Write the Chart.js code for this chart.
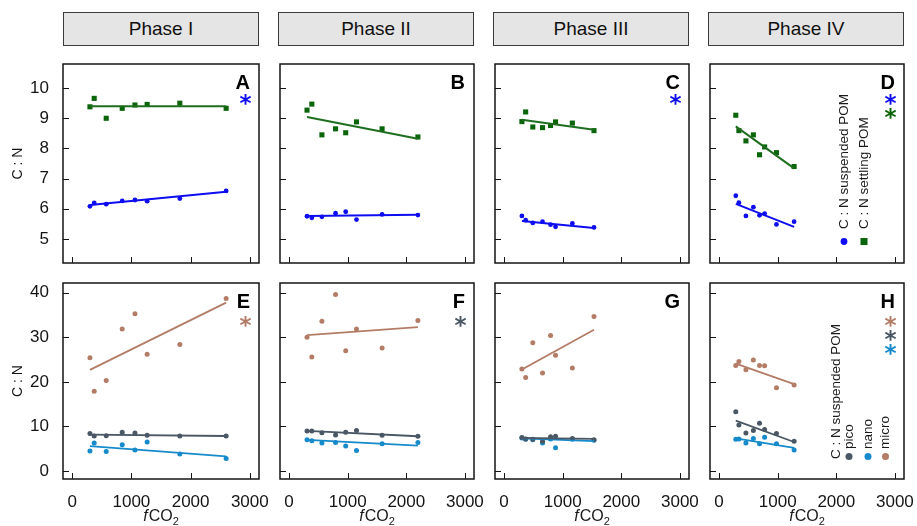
<!DOCTYPE html>
<html>
<head>
<meta charset="utf-8">
<script src="https://cdn.jsdelivr.net/npm/chart.js@4.4.1/dist/chart.umd.min.js"></script>
<style>
  html, body { margin: 0; padding: 0; background: #fff; }
  #wrap { position: relative; width: 917px; height: 526px; overflow: hidden;
          font-family: 'Liberation Sans', Arial, Helvetica, sans-serif; }
  .strip { position: absolute; top: 12px; height: 34px; width: 196px; box-sizing: border-box;
           background: #e5e5e5; border: 1px solid #3a3a3a; text-align: center;
           line-height: 32px; font-size: 19px; color: #111; }
  canvas { position: absolute; }
</style>
</head>
<body>
<div id="wrap"></div>
<script>
// ---- labels and ticks ----
const phaseNames = ['Phase I', 'Phase II', 'Phase III', 'Phase IV'];
const xTickVals = [0, 1000, 2000, 3000];
const yTicksBulk = [5, 6, 7, 8, 9, 10];
const yTicksSize = [0, 10, 20, 30, 40];
const yLabel = 'C : N';

// ---- fCO2 levels of the eight mesocosms, per phase ----
const fco2P1 = [300, 372, 575, 845, 1060, 1266, 1818, 2600];
const fco2P2 = [306, 388, 560, 793, 966, 1150, 1587, 2198];
const fco2P3 = [304, 368, 490, 656, 793, 878, 1165, 1534];
const fco2P4 = [285, 338, 458, 585, 690, 777, 979, 1280];

// ---- C:N of suspended and settling POM ----
const suspP1 = [6.08, 6.19, 6.15, 6.26, 6.29, 6.25, 6.34, 6.59];
const settP1 = [9.38, 9.66, 9.00, 9.33, 9.44, 9.46, 9.50, 9.33];
const suspP2 = [5.75, 5.70, 5.73, 5.85, 5.90, 5.64, 5.81, 5.79];
const settP2 = [9.27, 9.47, 8.45, 8.65, 8.52, 8.88, 8.65, 8.38];
const suspP3 = [5.76, 5.62, 5.53, 5.57, 5.47, 5.40, 5.51, 5.38];
const settP3 = [8.89, 9.21, 8.71, 8.69, 8.76, 8.88, 8.84, 8.59];
const suspP4 = [6.43, 6.20, 5.76, 6.05, 5.78, 5.84, 5.48, 5.57];
const settP4 = [9.10, 8.59, 8.25, 8.45, 7.79, 8.05, 7.86, 7.40];

// regression line end values (at lowest and highest fCO2)
const fitSuspP1 = [6.12, 6.56], fitSettP1 = [9.40, 9.40];
const fitSuspP2 = [5.76, 5.80], fitSettP2 = [9.04, 8.32];
const fitSuspP3 = [5.59, 5.36], fitSettP3 = [8.95, 8.62];
const fitSuspP4 = [6.16, 5.40], fitSettP4 = [8.73, 7.34];

// ---- C:N of size-fractionated suspended POM ----
const microP1 = [25.4, 17.9, 20.3, 31.9, 35.3, 26.2, 28.4, 38.7];
const picoP1  = [8.4, 7.85, 7.9, 8.7, 8.5, 8.0, 7.85, 7.85];
const nanoP1  = [4.5, 6.3, 4.4, 5.9, 4.7, 6.5, 3.8, 2.8];
const microP2 = [30.0, 25.6, 33.6, 39.6, 27.0, 31.9, 27.6, 33.8];
const picoP2  = [9.0, 9.0, 8.6, 8.1, 8.7, 9.1, 8.0, 7.8];
const nanoP2  = [7.0, 6.8, 6.3, 6.4, 5.6, 4.6, 6.1, 6.4];
const microP3 = [22.9, 21.0, 28.8, 22.0, 30.4, 26.0, 23.1, 34.7];
const picoP3  = [7.5, 7.2, 7.1, 6.7, 7.7, 7.8, 7.3, 7.0];
const nanoP3  = [7.4, 7.1, 7.0, 6.3, 7.2, 5.2, 7.1, 6.9];
const microP4 = [23.7, 24.6, 22.7, 24.9, 23.7, 23.6, 18.7, 19.3];
const picoP4  = [13.3, 10.3, 8.5, 9.1, 10.7, 9.3, 8.4, 6.7];
const nanoP4  = [7.1, 7.2, 6.3, 7.3, 6.1, 7.6, 6.1, 4.7];

const fitMicroP1 = [22.7, 37.8], fitPicoP1 = [8.15, 7.85], fitNanoP1 = [5.6, 3.3];
const fitMicroP2 = [30.5, 32.3], fitPicoP2 = [9.0, 7.8],   fitNanoP2 = [7.0, 5.7];
const fitMicroP3 = [22.8, 31.7], fitPicoP3 = [7.4, 7.2],   fitNanoP3 = [7.3, 6.7];
const fitMicroP4 = [24.1, 19.5], fitPicoP4 = [11.3, 6.5],  fitNanoP4 = [7.3, 5.2];

// ---- styling ----
const colSusp = '#0d0df0', colSett = '#0a640a', colSettLine = '#1f6e1f';
const colMicro = '#b37c66', colPico = '#4a5765', colNano = '#168acb';
const ink = '#141414';
const FONT = "'Liberation Sans', Arial, Helvetica, sans-serif";

const styles = {
  susp:  { shape: 'circle', r: 2.4, color: colSusp,  line: colSusp,     lw: 2 },
  sett:  { shape: 'rect',   r: 3.6, color: colSett,  line: colSettLine, lw: 2 },
  micro: { shape: 'circle', r: 2.5, color: colMicro, line: colMicro,    lw: 1.8 },
  pico:  { shape: 'circle', r: 2.5, color: colPico,  line: colPico,     lw: 1.8 },
  nano:  { shape: 'circle', r: 2.5, color: colNano,  line: colNano,     lw: 1.8 }
};

// panel frame layout (pixels)
const plotLefts = [63, 278, 493, 708];
const plotW = 196;
const plotTops = [62, 281];
const plotHs = [201, 198];
const yRanges = [[4.2, 10.8], [-1.8, 42.2]];
const xRange = [-155, 3155];

const panels = [
  { row: 0, col: 0, letter: 'A', x: fco2P1, stars: [colSusp],
    series: [{ kind: 'sett', y: settP1, fit: fitSettP1 }, { kind: 'susp', y: suspP1, fit: fitSuspP1 }] },
  { row: 0, col: 1, letter: 'B', x: fco2P2, stars: [],
    series: [{ kind: 'sett', y: settP2, fit: fitSettP2 }, { kind: 'susp', y: suspP2, fit: fitSuspP2 }] },
  { row: 0, col: 2, letter: 'C', x: fco2P3, stars: [colSusp],
    series: [{ kind: 'sett', y: settP3, fit: fitSettP3 }, { kind: 'susp', y: suspP3, fit: fitSuspP3 }] },
  { row: 0, col: 3, letter: 'D', x: fco2P4, stars: [colSusp, colSett], legend: 'bulk',
    series: [{ kind: 'sett', y: settP4, fit: fitSettP4 }, { kind: 'susp', y: suspP4, fit: fitSuspP4 }] },
  { row: 1, col: 0, letter: 'E', x: fco2P1, stars: [colMicro],
    series: [{ kind: 'micro', y: microP1, fit: fitMicroP1 }, { kind: 'pico', y: picoP1, fit: fitPicoP1 }, { kind: 'nano', y: nanoP1, fit: fitNanoP1 }] },
  { row: 1, col: 1, letter: 'F', x: fco2P2, stars: [colPico],
    series: [{ kind: 'micro', y: microP2, fit: fitMicroP2 }, { kind: 'pico', y: picoP2, fit: fitPicoP2 }, { kind: 'nano', y: nanoP2, fit: fitNanoP2 }] },
  { row: 1, col: 2, letter: 'G', x: fco2P3, stars: [],
    series: [{ kind: 'micro', y: microP3, fit: fitMicroP3 }, { kind: 'pico', y: picoP3, fit: fitPicoP3 }, { kind: 'nano', y: nanoP3, fit: fitNanoP3 }] },
  { row: 1, col: 3, letter: 'H', x: fco2P4, stars: [colMicro, colPico, colNano], legend: 'size',
    series: [{ kind: 'micro', y: microP4, fit: fitMicroP4 }, { kind: 'pico', y: picoP4, fit: fitPicoP4 }, { kind: 'nano', y: nanoP4, fit: fitNanoP4 }] }
];

const wrap = document.getElementById('wrap');

// phase header strips
phaseNames.forEach((name, i) => {
  const d = document.createElement('div');
  d.className = 'strip';
  d.style.left = plotLefts[i] + 'px';
  d.textContent = name;
  wrap.appendChild(d);
});

// text written bottom-to-top
function vtext(ctx, txt, x, yStart, size, color) {
  ctx.save();
  ctx.translate(x, yStart);
  ctx.rotate(-Math.PI / 2);
  ctx.font = size + 'px ' + FONT;
  ctx.fillStyle = color;
  ctx.textAlign = 'left';
  ctx.textBaseline = 'middle';
  ctx.fillText(txt, 0, 0);
  ctx.restore();
}

// glyph drawn with its ink box centred on (cx, cy)
function centredGlyph(ctx, ch, cx, cy, font, color) {
  ctx.save();
  ctx.font = font;
  ctx.fillStyle = color;
  ctx.textAlign = 'left';
  ctx.textBaseline = 'alphabetic';
  const m = ctx.measureText(ch);
  const w = m.actualBoundingBoxRight + m.actualBoundingBoxLeft;
  const h = m.actualBoundingBoxAscent + m.actualBoundingBoxDescent;
  const x = cx - w / 2 + m.actualBoundingBoxLeft;
  const y = cy + h / 2 - m.actualBoundingBoxDescent;
  ctx.fillText(ch, x, y);
  ctx.restore();
}

function makeDeco(p) {
  return {
    id: 'deco' + p.letter,
    afterDraw(chart) {
      const ctx = chart.ctx;
      const a = chart.chartArea;
      const xs = chart.scales.x, ys = chart.scales.y;
      ctx.save();
      // inward tick marks
      ctx.strokeStyle = ink;
      ctx.lineWidth = 1;
      ctx.beginPath();
      ys.ticks.forEach(t => {
        const py = Math.round(ys.getPixelForValue(t.value)) + 0.5;
        ctx.moveTo(a.left, py); ctx.lineTo(a.left + 6, py);
      });
      xs.ticks.forEach(t => {
        const px = Math.round(xs.getPixelForValue(t.value)) + 0.5;
        ctx.moveTo(px, a.bottom); ctx.lineTo(px, a.bottom - 6);
      });
      ctx.stroke();
      // panel frame
      ctx.lineWidth = 1.5;
      ctx.strokeRect(a.left, a.top, a.right - a.left, a.bottom - a.top);
      // panel letter
      ctx.font = 'bold 20px ' + FONT;
      ctx.fillStyle = '#000';
      ctx.textAlign = 'right';
      ctx.textBaseline = 'alphabetic';
      ctx.fillText(p.letter, a.right - 9, a.top + 25);
      // significance asterisks
      const s0 = p.row === 0 ? 35.5 : 38.5;
      p.stars.forEach((c, i) => {
        centredGlyph(ctx, '*', a.right - 13.5, a.top + s0 + i * 14, 'bold 23px DejaVu Sans', c);
      });
      // legends
      if (p.legend === 'bulk') {
        const items = [
          { label: 'C : N suspended POM', color: colSusp, shape: 'circle', dx: 134 },
          { label: 'C : N settling POM', color: colSett, shape: 'rect', dx: 154 }
        ];
        items.forEach(it => {
          vtext(ctx, it.label, a.left + it.dx, a.top + 165, 13.5, '#1a1a1a');
          ctx.fillStyle = it.color;
          if (it.shape === 'circle') {
            ctx.beginPath(); ctx.arc(a.left + it.dx, a.top + 177.5, 3.4, 0, Math.PI * 2); ctx.fill();
          } else {
            ctx.fillRect(a.left + it.dx - 3.5, a.top + 174, 7, 7);
          }
        });
      } else if (p.legend === 'size') {
        vtext(ctx, 'C : N suspended POM', a.left + 126, a.top + 176, 13.5, '#1a1a1a');
        const items = [
          { label: 'pico', color: colPico, dx: 139 },
          { label: 'nano', color: colNano, dx: 158 },
          { label: 'micro', color: colMicro, dx: 175.5 }
        ];
        items.forEach(it => {
          vtext(ctx, it.label, a.left + it.dx, a.top + 166, 13.5, '#1a1a1a');
          ctx.fillStyle = it.color;
          ctx.beginPath(); ctx.arc(a.left + it.dx, a.top + 173.5, 3.5, 0, Math.PI * 2); ctx.fill();
        });
      }
      // x-axis title on the lower row
      if (p.row === 1) {
        const cx = (a.left + a.right) / 2;
        const by = a.bottom + 42;
        const fI = 'italic 16px ' + FONT, fN = '16px ' + FONT, fS = '11px ' + FONT;
        ctx.fillStyle = '#1a1a1a';
        ctx.textAlign = 'left';
        ctx.font = fI; const w1 = ctx.measureText('f').width + 1;
        ctx.font = fN; const w2 = ctx.measureText('CO').width;
        ctx.font = fS; const w3 = ctx.measureText('2').width;
        let x0 = cx - (w1 + w2 + w3) / 2;
        ctx.font = fI; ctx.fillText('f', x0, by);
        ctx.font = fN; ctx.fillText('CO', x0 + w1, by);
        ctx.font = fS; ctx.fillText('2', x0 + w1 + w2, by + 4);
      }
      ctx.restore();
    }
  };
}

Chart.defaults.font.family = FONT;
Chart.defaults.color = ink;

panels.forEach(p => {
  const yW = p.col === 0 ? 63 : 2;
  const xH = p.row === 1 ? 47 : 4;
  const padT = 2, padR = 16;
  const cw = yW + plotW + padR;
  const ch = padT + plotHs[p.row] + xH;
  const cv = document.createElement('canvas');
  cv.width = cw; cv.height = ch;
  cv.style.width = cw + 'px'; cv.style.height = ch + 'px';
  cv.style.left = (plotLefts[p.col] - yW) + 'px';
  cv.style.top = (plotTops[p.row] - padT) + 'px';
  wrap.appendChild(cv);

  const datasets = [];
  p.series.forEach(s => {
    const st = styles[s.kind];
    datasets.push({
      label: s.kind,
      data: p.x.map((xv, i) => ({ x: xv, y: s.y[i] })),
      showLine: false, pointStyle: st.shape, pointRadius: st.r,
      pointBackgroundColor: st.color, pointBorderWidth: 0, order: 2
    });
    datasets.push({
      label: s.kind + ' fit',
      data: [{ x: p.x[0], y: s.fit[0] }, { x: p.x[p.x.length - 1], y: s.fit[1] }],
      showLine: true, pointRadius: 0, borderColor: st.line, borderWidth: st.lw,
      order: 1
    });
  });

  const yTicks = p.row === 0 ? yTicksBulk : yTicksSize;
  new Chart(cv, {
    type: 'scatter',
    data: { datasets },
    options: {
      responsive: false, animation: false, events: [],
      layout: { padding: { top: padT, right: padR, left: 0, bottom: 0 } },
      plugins: { legend: { display: false }, tooltip: { enabled: false } },
      scales: {
        x: {
          type: 'linear', min: xRange[0], max: xRange[1],
          afterBuildTicks: sc => { sc.ticks = xTickVals.map(v => ({ value: v })); },
          afterFit: sc => { sc.height = xH; sc.paddingLeft = 0; sc.paddingRight = 0; },
          grid: { display: false }, border: { display: false },
          ticks: { display: p.row === 1, font: { size: 17 }, color: ink, padding: 5,
                   maxRotation: 0, autoSkip: false, callback: v => String(v) }
        },
        y: {
          type: 'linear', min: yRanges[p.row][0], max: yRanges[p.row][1],
          afterBuildTicks: sc => { sc.ticks = yTicks.map(v => ({ value: v })); },
          afterFit: sc => { sc.width = yW; sc.paddingTop = 0; sc.paddingBottom = 0; },
          grid: { display: false }, border: { display: false },
          ticks: { display: p.col === 0, font: { size: 17 }, color: ink, padding: 6,
                   autoSkip: false, callback: v => String(v) },
          title: { display: p.col === 0, text: yLabel, font: { size: 14 }, color: ink,
                   padding: { top: 10, bottom: 0 } }
        }
      }
    },
    plugins: [makeDeco(p)]
  });
});
</script>
</body>
</html>
